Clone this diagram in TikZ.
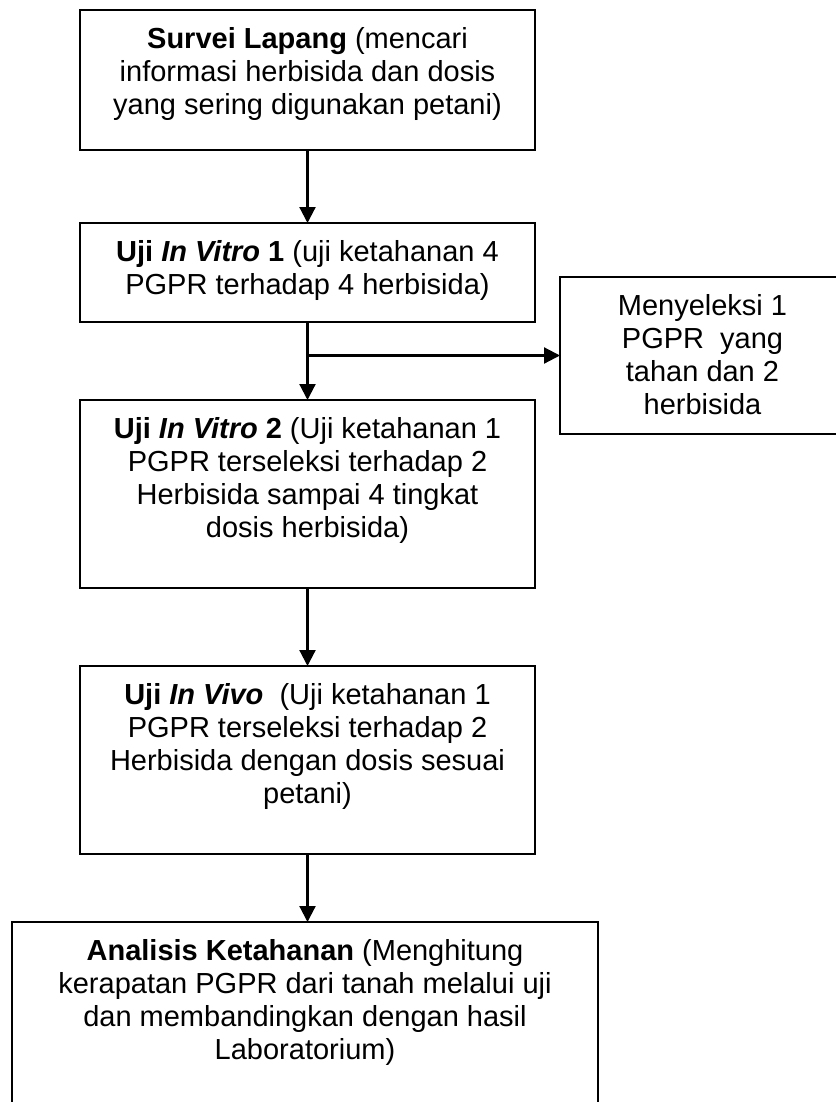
\documentclass[tikz,border=0pt]{standalone}
\usepackage{fontspec}
\setmainfont{Liberation Sans}
\usetikzlibrary{arrows.meta}
\newcommand{\bxt}[3]{\parbox[c][#2][t]{#1}{\centering\fontsize{29pt}{33pt}\selectfont\vspace*{15pt}\strut #3\par}}
\begin{document}
\begin{tikzpicture}[x=1pt,y=-1pt,
  box/.style={draw, line width=2.2pt, inner sep=0pt, outer sep=0pt, anchor=north west},
  arr/.style={line width=2.2pt, -{Triangle[length=16pt,width=16pt]}}]
\useasboundingbox (0,0) rectangle (835,1102);
\node[box] (b1) at (80,10) {\bxt{455pt}{140pt}{\textbf{Survei Lapang} (mencari\\informasi herbisida dan dosis\\yang sering digunakan petani)}};
\node[box] (b2) at (80,223) {\bxt{455pt}{99pt}{\textbf{Uji \textit{In Vitro} 1} (uji ketahanan 4\\PGPR terhadap 4 herbisida)}};
\node[box] (side) at (560,277) {\bxt{285pt}{157pt}{Menyeleksi 1\\PGPR~~yang\\tahan dan 2\\herbisida}};
\node[box] (b4) at (80,400) {\bxt{455pt}{188pt}{\textbf{Uji \textit{In Vitro} 2} (Uji ketahanan 1\\PGPR terseleksi terhadap 2\\Herbisida sampai 4 tingkat\\dosis herbisida)}};
\node[box] (b5) at (80,666) {\bxt{455pt}{188pt}{\textbf{Uji \textit{In Vivo}}~~(Uji ketahanan 1\\PGPR terseleksi terhadap 2\\Herbisida dengan dosis sesuai\\petani)}};
\node[box] (b6) at (12,922) {\bxt{586pt}{200pt}{\textbf{Analisis Ketahanan} (Menghitung\\kerapatan PGPR dari tanah melalui uji\\dan membandingkan dengan hasil\\Laboratorium)}};
\coordinate (j) at (b2.south |- side.west);
\draw[arr] (b1.south) -- (b2.north);
\draw[arr] (b2.south) -- (b4.north);
\draw[arr] (j) -- (side.west);
\draw[arr] (b4.south) -- (b5.north);
\draw[arr] (b5.south) -- (b5.south |- b6.north);
\end{tikzpicture}
\end{document}
